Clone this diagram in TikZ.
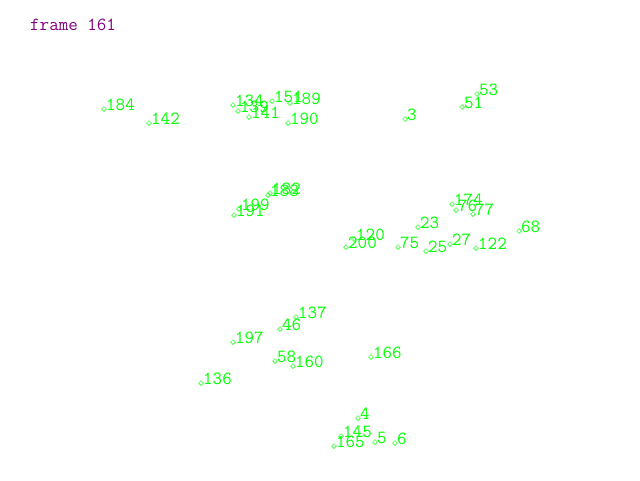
\documentclass[tikz,border=0pt]{standalone}
\usepackage{fontspec}
\usetikzlibrary{shapes.geometric}
\definecolor{ptgreen}{RGB}{0,255,0}
\definecolor{ttlpurple}{RGB}{128,0,128}
\newcommand{\ptfont}{\ttfamily\fontsize{18.5}{18.5}\selectfont}

\begin{document}
\begin{tikzpicture}[x=1pt,y=-1pt,
    pt/.style={diamond,draw=ptgreen,line width=0.5pt,inner sep=0pt,minimum size=5pt},
    lbl/.style={font=\ptfont,text=ptgreen,anchor=base west,inner sep=0pt}]
  \useasboundingbox (0,0) rectangle (640,480);
  \node[font=\ptfont,text=ttlpurple,anchor=base west,inner sep=0pt] (title) at (30,30) {frame 161};
  \foreach \x/\y/\n in {104/109/184, 149/123/142, 233/105/134, 238/111/139,
      249/117/141, 272/101/151, 290/103/189, 288/123/190,
      405/119/3, 462/107/51, 477/94/53,
      268/195/188, 270/193/182, 239/209/199, 234/215/191,
      452/204/174, 456/210/76, 473/214/77, 418/227/23,
      354/239/120, 346/247/200, 398/247/75, 426/251/25,
      450/244/27, 476/248/122, 519/231/68,
      296/317/137, 280/329/46, 233/342/197, 275/361/58,
      293/366/160, 371/357/166, 201/383/136,
      358/418/4, 341/436/145, 334/446/165, 375/442/5, 395/443/6}{
    \node[pt] (p\n) at (\x,\y) {};
    \node[lbl] (l\n) at (\x+2,\y+1) {\n};
  }
\end{tikzpicture}
\end{document}
